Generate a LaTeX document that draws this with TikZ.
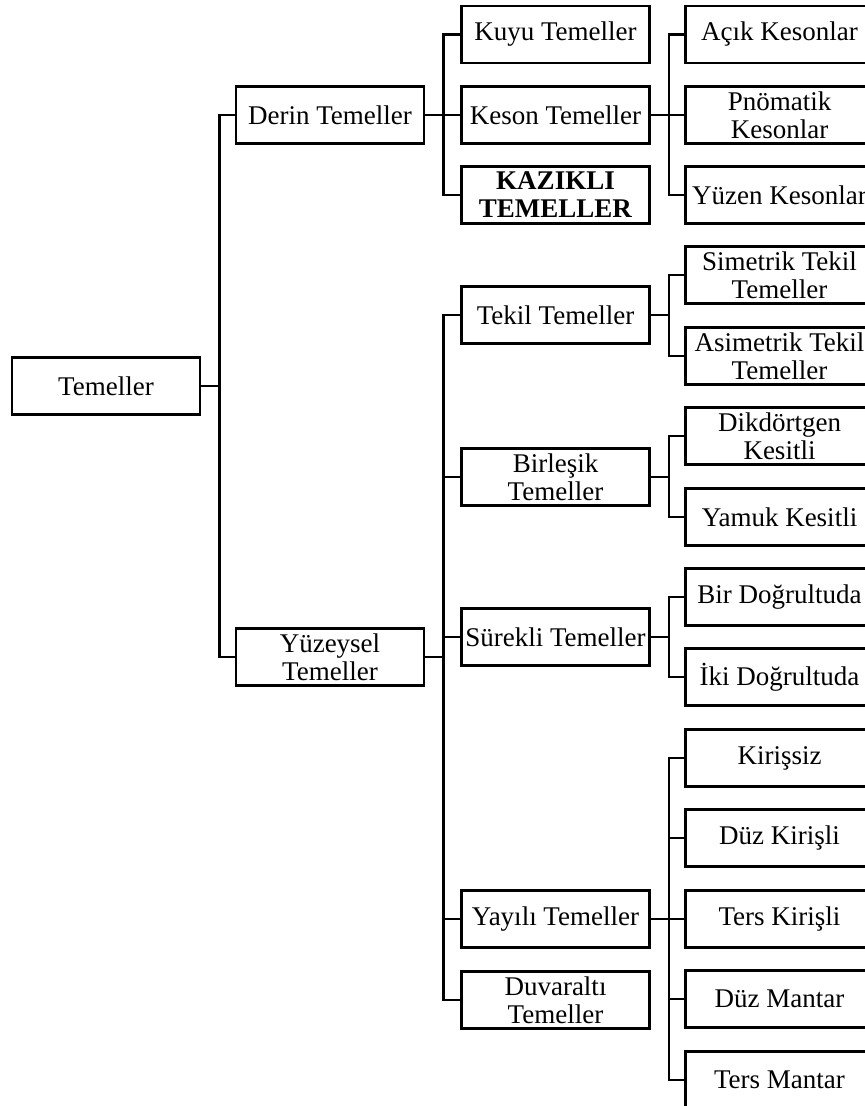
\documentclass[tikz,border=0pt]{standalone}
\usepackage{fontspec}
\setmainfont{Liberation Serif}
\begin{document}
\begin{tikzpicture}[x=0.5pt,y=-0.5pt,
  box/.style={draw,line width=1.25pt,rectangle,inner sep=0pt,align=center,
    minimum width=94pt,minimum height=28.5pt,
    font=\fontsize{13.5}{14}\selectfont},
  link/.style={line width=1.25pt}]
\useasboundingbox (0,0) rectangle (865,1106);
\clip (0,0) rectangle (865,1106);
% level 0
\node[box] (root) at (106,386) {Temeller};
% level 1
\node[box] (derin) at (330,115) {Derin Temeller};
\node[box] (yuz) at (330,657) {Yüzeysel\\Temeller};
% level 2
\node[box] (kuyu) at (555.5,34.5) {Kuyu Temeller};
\node[box] (keson) at (555.5,115) {Keson Temeller};
\node[box] (kazik) at (555.5,195) {\textbf{KAZIKLI}\\\textbf{TEMELLER}};
\node[box] (tekil) at (555.5,315) {Tekil Temeller};
\node[box] (birl) at (555.5,477) {Birleşik\\Temeller};
\node[box] (surek) at (555.5,637) {Sürekli Temeller};
\node[box] (yayil) at (555.5,919) {Yayılı Temeller};
\node[box] (duvar) at (555.5,1000) {Duvaraltı\\Temeller};
% level 3
\node[box] (acik) at (779.5,34.5) {Açık Kesonlar};
\node[box] (pnom) at (779.5,115) {Pnömatik\\Kesonlar};
\node[box] (yuzen) at (779.5,195) {Yüzen Kesonlar};
\node[box] (sim) at (779.5,275) {Simetrik Tekil\\Temeller};
\node[box] (asim) at (779.5,356) {Asimetrik Tekil\\Temeller};
\node[box] (dikd) at (779.5,436) {Dikdörtgen\\Kesitli};
\node[box] (yamuk) at (779.5,517) {Yamuk Kesitli};
\node[box] (bird) at (779.5,597) {Bir Doğrultuda};
\node[box] (ikid) at (779.5,677) {İki Doğrultuda};
\node[box] (kirs) at (779.5,758) {Kirişsiz};
\node[box] (duzk) at (779.5,838) {Düz Kirişli};
\node[box] (tersk) at (779.5,919) {Ters Kirişli};
\node[box] (duzm) at (779.5,999) {Düz Mantar};
\node[box] (tersm) at (779.5,1080) {Ters Mantar};
% connectors
\foreach \p/\c in {root/derin,root/yuz,
  derin/kuyu,derin/keson,derin/kazik,
  yuz/tekil,yuz/birl,yuz/surek,yuz/yayil,yuz/duvar,
  keson/acik,keson/pnom,keson/yuzen,
  tekil/sim,tekil/asim,
  birl/dikd,birl/yamuk,
  surek/bird,surek/ikid,
  yayil/kirs,yayil/duzk,yayil/tersk,yayil/duzm,yayil/tersm}
  \draw[link] (\p.east) -- ++(18,0) |- (\c.west);
\end{tikzpicture}
\end{document}
